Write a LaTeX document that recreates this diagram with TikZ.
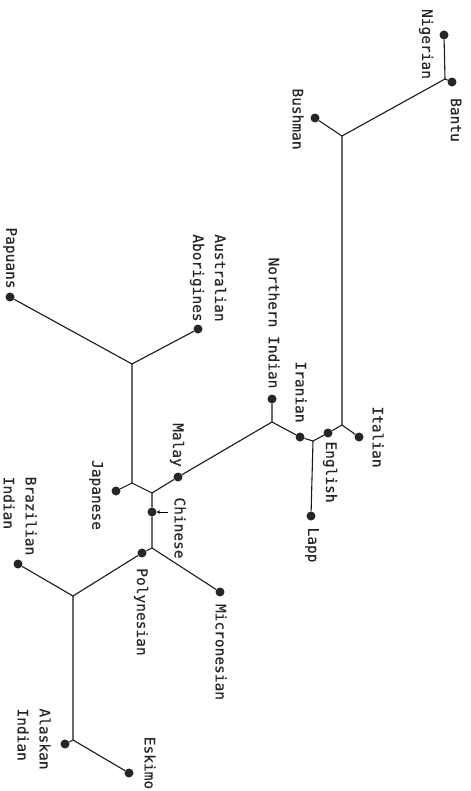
\documentclass[tikz,border=0pt]{standalone}
\usepackage{fontspec}
\newfontfamily\labelfont[FakeBold=0.35]{DejaVu Sans Mono}
\usetikzlibrary{arrows.meta}
\begin{document}
\begin{tikzpicture}[x=1bp,y=-1bp,
  branch/.style={line width=1.1bp, black!90},
  leaf/.style={circle, fill=black!85, inner sep=0pt, minimum size=9bp},
  lbl/.style={font=\labelfont\fontsize{14.5bp}{22bp}\selectfont, rotate=-90,
              align=left, inner sep=0pt, text=black!85}]
\useasboundingbox (0,0) rectangle (471,791);

% populations (leaves)
\node[leaf] (nig) at (444,35) {};
\node[leaf] (ban) at (452,82) {};
\node[leaf] (bus) at (315,118) {};
\node[leaf] (ita) at (359,437) {};
\node[leaf] (eng) at (328,433) {};
\node[leaf] (ira) at (300,437) {};
\node[leaf] (nin) at (272,399) {};
\node[leaf] (lap) at (311,516) {};
\node[leaf] (mal) at (178,477) {};
\node[leaf] (jap) at (116,491) {};
\node[leaf] (chi) at (152,512) {};
\node[leaf] (abo) at (198,329) {};
\node[leaf] (pap) at (10,297) {};
\node[leaf] (pol) at (142,553) {};
\node[leaf] (mic) at (220,592) {};
\node[leaf] (bra) at (18,564) {};
\node[leaf] (ala) at (65,744) {};
\node[leaf] (esk) at (129,773) {};

% branching points
\coordinate (jA) at (445,79);
\coordinate (jB) at (342,136);
\coordinate (jC) at (342,425);
\coordinate (jD) at (313,441);
\coordinate (jE) at (272,422);
\coordinate (jF) at (152,493);
\coordinate (jG) at (132,483);
\coordinate (jH) at (132,364);
\coordinate (jI) at (152,548);
\coordinate (jJ) at (73,596);
\coordinate (jK) at (73,740);

% tree
\draw[branch] (nig) -- (jA) -- (ban);
\draw[branch] (jA) -- (jB) -- (bus);
\draw[branch] (jB) -- (jC) -- (ita);
\draw[branch] (jC) -- (eng) -- (jD) -- (lap);
\draw[branch] (jD) -- (ira) -- (jE) -- (nin);
\draw[branch] (jE) -- (mal) -- (jF) -- (chi);
\draw[branch] (jF) -- (jG) -- (jap);
\draw[branch] (jG) -- (jH) -- (abo);
\draw[branch] (jH) -- (pap);
\draw[branch] (chi) -- (jI) -- (mic);
\draw[branch] (jI) -- (pol) -- (jJ) -- (bra);
\draw[branch] (jJ) -- (jK) -- (ala);
\draw[branch] (jK) -- (esk);

% pointer to the Chinese node
\coordinate (ptr) at (168,512);
\draw[line width=0.8bp, -{Stealth[length=3.5bp,width=3.5bp]}] (ptr) -- (chi);

% labels
\node[lbl] (tnig) at (426,44) {Nigerian};
\node[lbl] (tban) at (456,120) {Bantu};
\node[lbl] (tbus) at (298,119) {Bushman};
\node[lbl] (tita) at (378,437) {Italian};
\node[lbl] (teng) at (330,472) {English};
\node[lbl] (tlap) at (312,545) {Lapp};
\node[lbl] (tira) at (301,392) {Iranian};
\node[lbl] (tnin) at (274,323) {Northern Indian};
\node[lbl] (tabo) at (208,278) {Australian\\Aborigines};
\node[lbl] (tpap) at (10,258) {Papuans};
\node[lbl] (tmal) at (177,445) {Malay};
\node[lbl] (tjap) at (96,495) {Japanese};
\node[lbl] (tchi) at (180,528) {Chinese};
\node[lbl] (tbra) at (20,516) {Brazilian\\Indian};
\node[lbl] (tpol) at (141,612) {Polynesian};
\node[lbl] (tmic) at (221,652) {Micronesian};
\node[lbl] (tala) at (34,739) {Alaskan\\Indian};
\node[lbl] (tesk) at (150,763) {Eskimo};
\end{tikzpicture}
\end{document}
